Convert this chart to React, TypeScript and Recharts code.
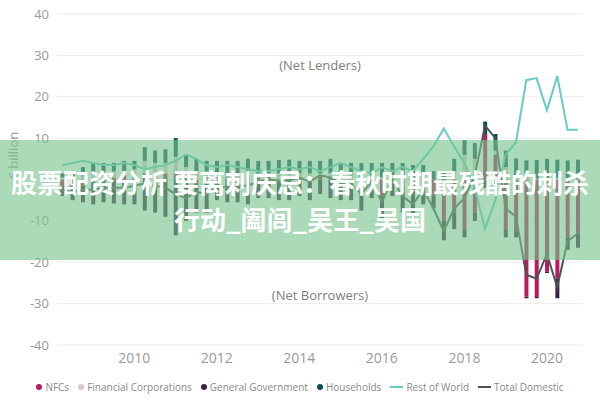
import React from "react";
import {
  ComposedChart,
  Bar,
  Line,
  XAxis,
  YAxis,
  CartesianGrid,
  ReferenceLine,
} from "recharts";

const quarters = [
  "2008Q2", "2008Q3", "2008Q4",
  "2009Q1", "2009Q2", "2009Q3", "2009Q4",
  "2010Q1", "2010Q2", "2010Q3", "2010Q4",
  "2011Q1", "2011Q2", "2011Q3", "2011Q4",
  "2012Q1", "2012Q2", "2012Q3", "2012Q4",
  "2013Q1", "2013Q2", "2013Q3", "2013Q4",
  "2014Q1", "2014Q2", "2014Q3", "2014Q4",
  "2015Q1", "2015Q2", "2015Q3", "2015Q4",
  "2016Q1", "2016Q2", "2016Q3", "2016Q4",
  "2017Q1", "2017Q2", "2017Q3", "2017Q4",
  "2018Q1", "2018Q2", "2018Q3", "2018Q4",
  "2019Q1", "2019Q2", "2019Q3", "2019Q4",
  "2020Q1", "2020Q2", "2020Q3", "2020Q4",
];

// € billion
const nfcs = [
  -1.5, -2, -1.5, -0.5, 0.5, 0.5, 1, 1, 1.5, 1, 1.5, 2, 1, -1, 0.5,
  0.5, 0.5, -0.5, 1, 0.5, 1, -0.5, 0.5, 0.5, -0.5, 1, 0.5, -1, -2, -3, -1,
  -4, -1, -2, -3, -2, -4, -10, -8,
  -12, -8, 11, 6, -12, -12.5, -28.3, -28.4, -22.3, -24, -14, -13,
];
const financialCorps = [
  0.5, 0.5, 1, 1.5, 1, 1.5, 1, 1.5, 3, 3, 2.5, 3.5, 2, 2, 1.5,
  1, 1, 1.5, 0.5, 1, 0.5, 1.5, 1, 1, 1.5, 0.5, 1, 1, 1, 0.5, 1,
  0.5, 1, 0.5, 0.5, 0.5, 0, 0, 2,
  6, 5, 0, 1, 3, 0.5, 0.3, 0.2, 0.4, 0.3, 0, 0.2,
];
const generalGov = [
  -2.5, -3, -4, -5.5, -5.5, -5.8, -6, -6, -7.5, -8, -9, -13.5, -10, -7, -8,
  -5, -5.5, -5, -6, -4.5, -4.5, -4.5, -5, -4, -4.5, -3.5, -4.5, -4, -3, -4.5, -3.5,
  -5.5, -3, -6, -6.5, -4, -3, -4.7, -4,
  -2, -2, -2, -1.5, -2, -1.5, -0.4, -0.3, -0.3, -4.7, -3, -3.5,
];
const households = [
  1, 1.5, 2, 2.5, 2.5, 2, 2.5, 2, 3.3, 3, 3.3, 4.5, 3, 3, 2.5,
  3, 3, 3, 3.5, 3, 3, 3.2, 3.3, 3, 3, 3, 3.5, 3, 3, 3.5, 3,
  3.5, 3, 3.5, 3, 3, 2, 2, 3,
  3.5, 3.8, 3, 4, 4, 4.6, 4.3, 4.5, 4.6, 4.5, 4.6, 4.6,
];
const restOfWorld = [
  3.5, 4, 4.5, 4, 3.5, 3.5, 4, 3.5, 2.5, 3, 3.5, 4.5, 6, 5, 3.5,
  3, 3.5, 3, 2.5, 2, 2, 2.5, 3, 2.5, 3, 2, 3, 4, 3, 2, 1.5,
  3, 2, 3, 2, 5, 8, 12.3, 8,
  4, -2, -12, -5, 6, 9, 24, 24.5, 16.7, 25, 12, 12,
];
const totalDomestic = [
  -2.5, -3, -2.5, -2.5, -2, -2, -2, -1.5, -1, -1.5, -2, -3.5, -4.5, -3, -3.5,
  -1.5, -2, -1.5, -1.5, -0.5, 0, -0.3, -0.2, 0.5, -0.5, 1, 0.5, -1, -1, -3.5, -0.5,
  -5.5, 0, -4, -6, -2.5, -7, -12.5, -7,
  -4.5, 1, 13, 10, -7, -9, -23, -24, -18, -26, -15, -13,
];

const yTicks = [-40, -30, -20, -10, 0, 10, 20, 30, 40];
const xTickYears = ["2010", "2012", "2014", "2016", "2018", "2020"];

const titleLine1 = "股票配资分析 要离刺庆忌：春秋时期最残酷的刺杀";
const titleLine2 = "行动_阖闾_吴王_吴国";

const COLORS = {
  nfcs: "#b8195f",
  fc: "#dcc6cc",
  gg: "#3d1f45",
  hh: "#0f4c5c",
  row: "#66cdc2",
  td: "#4a5550",
};

const data = quarters.map((q, i) => ({
  q,
  nfcs: nfcs[i],
  fc: financialCorps[i],
  gg: generalGov[i],
  hh: households[i],
  row: restOfWorld[i],
  td: totalDomestic[i],
}));

const legendItems = [
  { name: "NFCs", color: COLORS.nfcs, kind: "dot" },
  { name: "Financial Corporations", color: COLORS.fc, kind: "dot" },
  { name: "General Government", color: COLORS.gg, kind: "dot" },
  { name: "Households", color: COLORS.hh, kind: "dot" },
  { name: "Rest of World", color: COLORS.row, kind: "line" },
  { name: "Total Domestic", color: COLORS.td, kind: "line" },
];

const font = "'Open Sans', 'Noto Sans', sans-serif";

export default function App() {
  return (
    <div
      style={{
        position: "absolute",
        left: 0,
        top: 0,
        width: 600,
        height: 400,
        background: "#fff",
        fontFamily: font,
        overflow: "hidden",
      }}
    >
      <ComposedChart
        width={600}
        height={370}
        data={data}
        stackOffset="sign"
        barCategoryGap="32%"
        margin={{ top: 14, right: 17, left: 0, bottom: 0 }}
      >
        <CartesianGrid stroke="#ececec" vertical={false} />
        <XAxis
          dataKey="q"
          interval={0}
          axisLine={false}
          tickLine={false}
          height={25}
          tick={{ fill: "#9a9a9a", fontSize: 14, fontFamily: font }}
          tickFormatter={(v: string) =>
            v.endsWith("Q1") && xTickYears.includes(v.slice(0, 4)) ? v.slice(0, 4) : ""
          }
        />
        <YAxis
          domain={[-40, 40]}
          ticks={yTicks}
          width={57}
          axisLine={false}
          tickLine={false}
          tick={{ fill: "#9a9a9a", fontSize: 13, fontFamily: font }}
          label={{
            value: "€ billion",
            angle: -90,
            position: "insideLeft",
            dx: 8,
            fill: "#9a9a9a",
            fontSize: 13,
            fontFamily: font,
          }}
        />
        <ReferenceLine
          y={27.5}
          stroke="none"
          label={{ value: "(Net Lenders)", position: "center", fill: "#808080", fontSize: 13, fontFamily: font }}
        />
        <ReferenceLine
          y={-28}
          stroke="none"
          label={{ value: "(Net Borrowers)", position: "center", fill: "#808080", fontSize: 13, fontFamily: font }}
        />
        <Bar dataKey="nfcs" stackId="s" fill={COLORS.nfcs} isAnimationActive={false} />
        <Bar dataKey="fc" stackId="s" fill={COLORS.fc} isAnimationActive={false} />
        <Bar dataKey="gg" stackId="s" fill={COLORS.gg} isAnimationActive={false} />
        <Bar dataKey="hh" stackId="s" fill={COLORS.hh} isAnimationActive={false} />
        <Line
          type="linear"
          dataKey="row"
          stroke={COLORS.row}
          strokeWidth={2}
          dot={false}
          isAnimationActive={false}
        />
        <Line
          type="linear"
          dataKey="td"
          stroke={COLORS.td}
          strokeWidth={2}
          dot={false}
          isAnimationActive={false}
        />
      </ComposedChart>

      {/* legend */}
      <div
        style={{
          position: "absolute",
          left: 0,
          top: 380,
          width: 600,
          display: "flex",
          justifyContent: "center",
          alignItems: "center",
          gap: 9,
          fontSize: 10,
          color: "#8a8a8a",
          whiteSpace: "nowrap",
        }}
      >
        {legendItems.map((it) => (
          <span key={it.name} style={{ display: "flex", alignItems: "center", gap: 3 }}>
            {it.kind === "dot" ? (
              <span
                style={{ width: 6, height: 6, borderRadius: 3, background: it.color, display: "inline-block" }}
              />
            ) : (
              <span style={{ width: 13, height: 2, background: it.color, display: "inline-block" }} />
            )}
            {it.name}
          </span>
        ))}
      </div>

      {/* overlay band with title */}
      <div
        style={{
          position: "absolute",
          left: 0,
          top: 140,
          width: 600,
          height: 120,
          background: "rgba(120, 195, 140, 0.62)",
          display: "flex",
          flexDirection: "column",
          justifyContent: "center",
          alignItems: "center",
          color: "#fff",
          fontFamily: "'Noto Sans CJK SC', sans-serif",
          fontWeight: 700,
          fontSize: 26,
          lineHeight: "37px",
          whiteSpace: "nowrap",
        }}
      >
        <div>{titleLine1}</div>
        <div>{titleLine2}</div>
      </div>
    </div>
  );
}
